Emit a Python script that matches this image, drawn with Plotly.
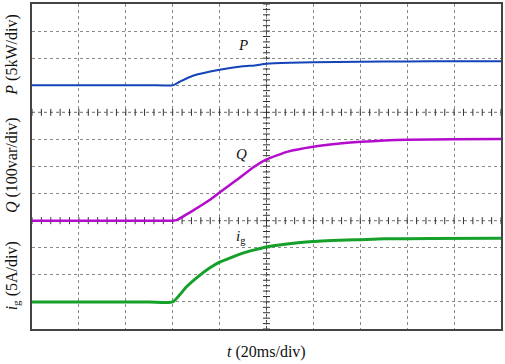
import numpy as np
import plotly.graph_objects as go

# time axis: ms (20 ms/div, 10 divisions); vertical axis in divisions (12 divisions)
t_P = [0, 50, 60, 63, 68.6, 80, 89.9, 94.9, 100, 110, 119.9, 140.3, 160, 180, 200]
P_div = [9.0, 9.0, 9.0, 9.13, 9.35, 9.57, 9.70, 9.73, 9.79, 9.83, 9.85, 9.87, 9.88, 9.89, 9.89]

t_Q = [0, 50, 60, 61.6, 68.6, 75.7, 80, 87.1, 94.9, 100, 109.1, 119.9, 130.2, 140.3, 150.2, 160, 180, 200]
Q_div = [4.0, 4.0, 4.0, 4.02, 4.37, 4.76, 5.04, 5.49, 6.0, 6.26, 6.55, 6.73, 6.84, 6.91, 6.96, 6.99, 7.01, 7.02]

t_ig = [0, 50, 60, 65.8, 71.5, 75.7, 80, 84.3, 89.9, 94.9, 100, 105.5, 119.9, 140.3, 150.2, 170, 200]
ig_div = [1.0, 1.0, 1.0, 1.55, 1.98, 2.25, 2.47, 2.62, 2.80, 2.92, 3.03, 3.10, 3.23, 3.30, 3.33, 3.34, 3.35]

x_range = [0, 200]
y_range = [0, 12]

FONT = "Liberation Serif, Times New Roman, serif"
fig = go.Figure()

# center lines with scope ticks
tick_col = "#333333"
hx = np.arange(0, 200.01, 4.0)
for yc in (4, 8):
    fig.add_shape(type="line", x0=0, x1=200, y0=yc, y1=yc,
                  line=dict(color="#444444", width=1, dash="dot"), layer="below")
    fig.add_trace(go.Scatter(x=hx, y=[yc] * len(hx), mode="markers",
                             marker=dict(symbol="line-ns", size=5,
                                         line=dict(color=tick_col, width=1)),
                             hoverinfo="skip", showlegend=False))
vy = np.arange(0, 12.001, 0.2)
fig.add_shape(type="line", x0=100, x1=100, y0=0, y1=12,
              line=dict(color="#444444", width=1, dash="dot"), layer="below")
fig.add_trace(go.Scatter(x=[100] * len(vy), y=vy, mode="markers",
                         marker=dict(symbol="line-ew", size=5,
                                     line=dict(color=tick_col, width=1)),
                         hoverinfo="skip", showlegend=False))

fig.add_trace(go.Scatter(x=t_P, y=P_div, mode="lines",
                         line=dict(color="#1444b8", width=2, shape="spline", smoothing=0.5),
                         showlegend=False))
fig.add_trace(go.Scatter(x=t_Q, y=Q_div, mode="lines",
                         line=dict(color="#b40ccc", width=2.5, shape="spline", smoothing=0.5),
                         showlegend=False))
fig.add_trace(go.Scatter(x=t_ig, y=ig_div, mode="lines",
                         line=dict(color="#15a02a", width=3, shape="spline", smoothing=0.5),
                         showlegend=False))

# curve labels
for txt, xx, yy in [("<i>P</i>", 89.8, 10.5), ("<i>Q</i>", 89.2, 6.46),
                    ("<i>i</i><sub>g</sub>", 89.2, 3.4)]:
    fig.add_annotation(x=xx, y=yy, text=txt, showarrow=False,
                       font=dict(family=FONT, size=15, color="#111111"))

# y titles
for txt, yp in [("<i>P</i> (5kW/div)", (329 - 54) / 327),
                ("<i>Q</i> (100var/div)", (329 - 164) / 327),
                ("<i>i</i><sub>g</sub> (5A/div)", (329 - 276) / 327)]:
    fig.add_annotation(xref="paper", yref="paper", x=-20 / 470, y=yp, text=txt,
                       textangle=-90, showarrow=False, xanchor="center", yanchor="middle",
                       font=dict(family=FONT, size=16, color="#111111"))

fig.add_annotation(xref="paper", yref="paper", x=0.5, y=-23 / 327, text="<i>t</i> (20ms/div)",
                   showarrow=False, xanchor="center", yanchor="middle",
                   font=dict(family=FONT, size=16, color="#111111"))

fig.update_xaxes(range=x_range, dtick=20, tick0=0, showticklabels=False, ticks="",
                 showgrid=True, gridcolor="#8a8a8a", griddash="dot", gridwidth=1,
                 zeroline=False, showline=True, linecolor="#444444", linewidth=1.5, mirror=True)
fig.update_yaxes(range=y_range, dtick=1, tick0=0, showticklabels=False, ticks="",
                 showgrid=True, gridcolor="#8a8a8a", griddash="dot", gridwidth=1,
                 zeroline=False, showline=True, linecolor="#444444", linewidth=1.5, mirror=True)

fig.update_layout(width=505, height=364, margin=dict(l=32, r=3, t=2, b=35),
                  plot_bgcolor="white", paper_bgcolor="white")

fig.write_html("out.html", config={"displayModeBar": False},
               post_script="document.body.style.margin='0';")
